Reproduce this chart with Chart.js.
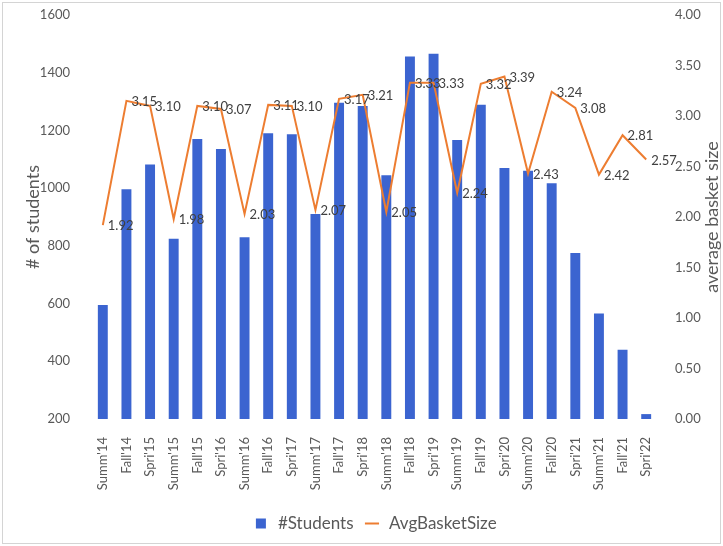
<!DOCTYPE html>
<html>
<head>
<meta charset="utf-8">
<script src="https://cdn.jsdelivr.net/npm/chart.js@4.4.1/dist/chart.umd.min.js"></script>
<style>
  html, body { margin: 0; padding: 0; background: #fff; }
  #wrap { width: 723px; height: 546px; }
</style>
</head>
<body>
<div id="wrap"><canvas id="chart" width="723" height="546"></canvas></div>
<script>
// data
const categories = [
  "Summ'14", "Fall'14", "Spri'15", "Summ'15", "Fall'15", "Spri'16",
  "Summ'16", "Fall'16", "Spri'17", "Summ'17", "Fall'17", "Spri'18",
  "Summ'18", "Fall'18", "Spri'19", "Summ'19", "Fall'19", "Spri'20",
  "Summ'20", "Fall'20", "Spri'21", "Summ'21", "Fall'21", "Spri'22"
];
const students = [
  595, 996, 1082, 825, 1170, 1136,
  830, 1190, 1187, 910, 1296, 1285,
  1045, 1456, 1466, 1167, 1289, 1070,
  1060, 1017, 775, 566, 440, 217
];
const avgBasket = [
  1.92, 3.15, 3.10, 1.98, 3.10, 3.07,
  2.03, 3.11, 3.10, 2.07, 3.17, 3.21,
  2.05, 3.33, 3.33, 2.24, 3.32, 3.39,
  2.43, 3.24, 3.08, 2.42, 2.81, 2.57
];
const studentsAxis = { min: 200, max: 1600, step: 200 };
const basketAxis = { min: 0, max: 4, step: 0.5 };

const FONT = "Lato";
const GREY = "#595959";

// value labels to the right of each line point
const valueLabels = {
  id: "valueLabels",
  afterDatasetsDraw(chart) {
    const ctx = chart.ctx;
    const meta = chart.getDatasetMeta(1);
    ctx.save();
    ctx.font = "13px " + FONT;
    ctx.fillStyle = "#404040";
    ctx.textAlign = "left";
    ctx.textBaseline = "middle";
    meta.data.forEach((pt, i) => {
      ctx.fillText(avgBasket[i].toFixed(2), pt.x + 5, pt.y + 1);
    });
    ctx.restore();
  }
};

// right axis title reads bottom-to-top like Excel
const rightTitle = {
  id: "rightTitle",
  afterDraw(chart) {
    const ctx = chart.ctx;
    const a = chart.chartArea;
    ctx.save();
    ctx.translate(712, (a.top + a.bottom) / 2);
    ctx.rotate(-Math.PI / 2);
    ctx.font = "18px " + FONT;
    ctx.fillStyle = GREY;
    ctx.textAlign = "center";
    ctx.textBaseline = "middle";
    ctx.fillText("average basket size", 0, 0);
    ctx.restore();
  }
};

// thin frame round the chart
const frame = {
  id: "frame",
  beforeDraw(chart) {
    const ctx = chart.ctx;
    ctx.save();
    ctx.fillStyle = "#fff";
    ctx.fillRect(0, 0, chart.width, chart.height);
    ctx.strokeStyle = "#d4d4d4";
    ctx.lineWidth = 1;
    ctx.strokeRect(2.5, 2.5, chart.width - 5, chart.height - 5);
    ctx.restore();
  }
};

new Chart(document.getElementById("chart"), {
  type: "bar",
  data: {
    labels: categories,
    datasets: [
      {
        label: "#Students",
        data: students,
        backgroundColor: "#3B64D0",
        borderWidth: 0,
        yAxisID: "yL",
        categoryPercentage: 1,
        barPercentage: 0.42,
        order: 1
      },
      {
        type: "line",
        label: "AvgBasketSize",
        data: avgBasket,
        borderColor: "#ED7D31",
        backgroundColor: "#ED7D31",
        borderWidth: 2,
        pointRadius: 0,
        tension: 0,
        yAxisID: "yR",
        order: 0
      }
    ]
  },
  options: {
    responsive: false,
    animation: false,
    layout: { padding: { top: 15, left: 0, right: 0, bottom: 4 } },
    plugins: {
      tooltip: { enabled: false },
      legend: {
        position: "bottom",
        fullSize: false,
        labels: {
          usePointStyle: true,
          boxHeight: 10,
          padding: 10,
          color: GREY,
          font: { family: FONT, size: 17 },
          generateLabels(chart) {
            const items = Chart.defaults.plugins.legend.labels.generateLabels(chart);
            items.forEach((it) => {
              it.pointStyle = it.datasetIndex === 0 ? "rect" : "line";
            });
            return items.sort((a, b) => a.datasetIndex - b.datasetIndex);
          }
        }
      }
    },
    scales: {
      x: {
        grid: { display: false },
        border: { display: false },
        ticks: {
          autoSkip: false,
          minRotation: 90,
          maxRotation: 90,
          padding: 10,
          color: GREY,
          font: { family: FONT, size: 13 }
        },
        afterFit(s) { s.height = 86; }
      },
      yL: {
        position: "left",
        min: studentsAxis.min,
        max: studentsAxis.max,
        beginAtZero: false,
        grid: { display: false },
        border: { display: false },
        ticks: {
          stepSize: studentsAxis.step,
          padding: 13,
          color: GREY,
          font: { family: FONT, size: 13 },
          callback: (v) => String(v)
        },
        title: {
          display: true,
          text: "# of students",
          color: GREY,
          font: { family: FONT, size: 18 },
          padding: { top: 22, bottom: 0 }
        },
        afterFit(s) { s.width = 91; s.paddingTop = 0; s.paddingBottom = 0; }
      },
      yR: {
        position: "right",
        min: basketAxis.min,
        max: basketAxis.max,
        grid: { display: false },
        border: { display: false },
        ticks: {
          stepSize: basketAxis.step,
          padding: 9,
          color: GREY,
          font: { family: FONT, size: 13 },
          callback: (v) => Number(v).toFixed(2)
        },
        afterFit(s) { s.width = 65; s.paddingTop = 0; s.paddingBottom = 0; }
      }
    }
  },
  plugins: [frame, valueLabels, rightTitle]
});
</script>
</body>
</html>
